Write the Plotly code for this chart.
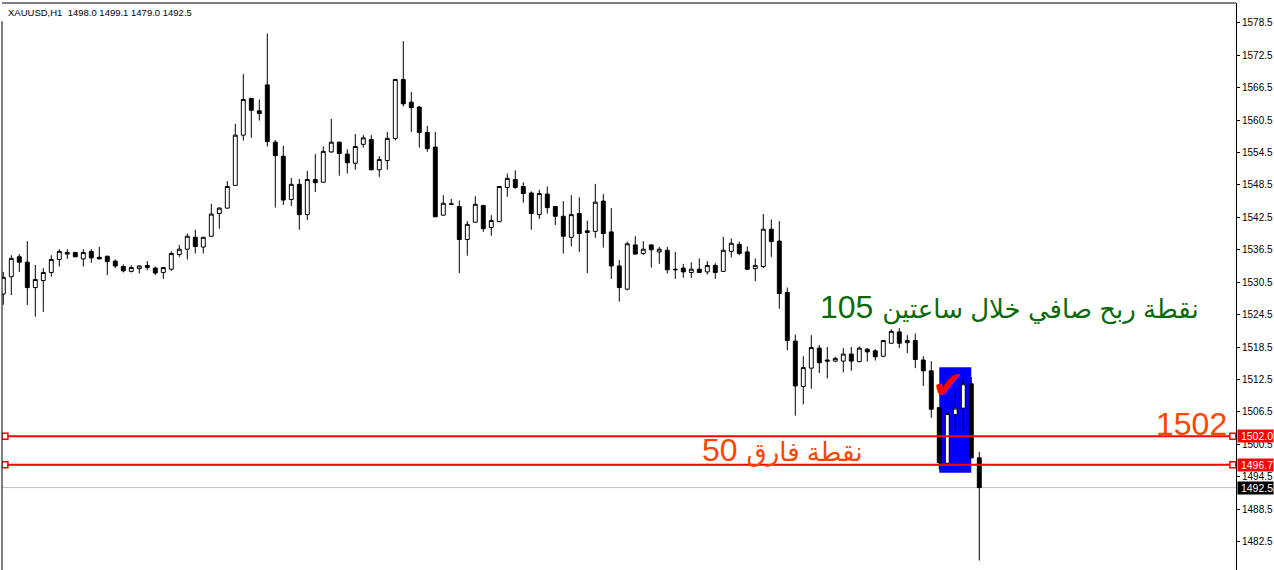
import plotly.graph_objects as go

symbol = "XAUUSD,H1"

open_ = [1528.3, 1531.5, 1535.2, 1534.2, 1529.5, 1530.8, 1532.3, 1534.7, 1536.0, 1536.0,
         1534.8, 1536.2, 1535.1, 1535.3, 1534.4, 1533.4, 1532.5, 1533.0, 1533.6, 1533.1,
         1532.3, 1532.9, 1535.6, 1536.6, 1538.8, 1537.0, 1539.0, 1543.2, 1544.2, 1548.4,
         1557.7, 1564.5, 1562.2, 1567.0, 1556.4, 1553.8, 1545.8, 1548.6, 1543.0, 1549.5,
         1549.0, 1554.6, 1556.4, 1554.2, 1552.5, 1556.0, 1556.9, 1551.3, 1553.0, 1557.1,
         1568.0, 1563.8, 1562.9, 1558.2, 1555.5, 1542.9, 1545.0, 1544.5, 1538.4, 1541.6,
         1544.7, 1540.6, 1541.7, 1548.0, 1549.5, 1548.2, 1547.0, 1543.0, 1546.8, 1544.5,
         1542.7, 1538.8, 1543.2, 1540.0, 1539.9, 1545.5, 1539.8, 1533.5, 1529.2, 1537.4,
         1535.8, 1537.4, 1536.1, 1536.4, 1532.9, 1533.1, 1532.3, 1532.9, 1532.4, 1533.6,
         1532.5, 1536.2, 1537.5, 1536.1, 1533.0, 1533.4, 1540.3, 1538.1, 1528.6, 1519.6,
         1511.2, 1514.6, 1518.3, 1516.1, 1515.9, 1515.9, 1517.2, 1515.8, 1518.1, 1517.8,
         1516.8, 1519.2, 1521.3, 1519.3, 1519.7, 1516.1, 1514.1, 1507.3, 1497.0, 1506.0,
         1507.2, 1511.7, 1498.0]

high = [1532.4, 1535.5, 1535.7, 1538.1, 1533.7, 1533.1, 1535.5, 1536.6, 1536.6, 1536.1,
        1536.6, 1536.6, 1537.0, 1535.4, 1534.7, 1533.8, 1533.6, 1533.6, 1534.4, 1533.4,
        1533.3, 1536.2, 1537.4, 1539.5, 1540.2, 1538.9, 1545.0, 1544.4, 1549.2, 1559.8,
        1569.0, 1564.6, 1564.3, 1576.5, 1556.8, 1555.7, 1549.8, 1549.6, 1551.1, 1554.2,
        1555.6, 1560.7, 1556.5, 1555.1, 1557.9, 1557.7, 1557.7, 1553.8, 1558.3, 1568.1,
        1575.1, 1565.7, 1563.1, 1559.4, 1558.3, 1546.6, 1545.9, 1545.6, 1541.8, 1546.4,
        1544.8, 1542.9, 1548.3, 1550.6, 1551.2, 1549.0, 1547.3, 1547.6, 1548.2, 1544.6,
        1545.5, 1546.6, 1546.2, 1541.9, 1548.7, 1546.8, 1544.2, 1534.6, 1538.0, 1539.0,
        1538.1, 1537.5, 1537.0, 1537.0, 1536.1, 1533.9, 1534.2, 1534.9, 1534.4, 1534.0,
        1538.9, 1538.6, 1538.0, 1537.1, 1534.9, 1543.1, 1542.1, 1541.8, 1529.5, 1520.8,
        1516.8, 1520.7, 1518.9, 1518.5, 1516.7, 1518.3, 1518.5, 1518.6, 1518.3, 1518.1,
        1519.8, 1521.8, 1522.0, 1520.7, 1521.0, 1516.8, 1515.9, 1507.4, 1506.3, 1510.7,
        1512.7, 1512.9, 1499.1]

low = [1526.3, 1528.1, 1532.4, 1526.3, 1524.1, 1525.0, 1531.5, 1533.4, 1534.8, 1535.1,
       1533.4, 1534.1, 1534.8, 1531.8, 1533.1, 1532.3, 1532.3, 1532.1, 1532.7, 1531.8,
       1531.1, 1532.6, 1535.2, 1534.7, 1535.8, 1535.8, 1538.9, 1540.4, 1544.1, 1548.3,
       1556.7, 1557.2, 1560.4, 1555.6, 1544.3, 1544.8, 1544.6, 1540.2, 1542.0, 1547.2,
       1548.9, 1554.4, 1550.2, 1550.6, 1551.3, 1555.4, 1551.2, 1550.0, 1551.3, 1556.7,
       1563.0, 1558.3, 1555.4, 1554.6, 1542.5, 1542.8, 1544.9, 1532.2, 1535.4, 1541.5,
       1539.8, 1539.1, 1541.6, 1546.3, 1547.8, 1545.2, 1540.2, 1542.2, 1543.2, 1541.1,
       1535.8, 1537.1, 1536.1, 1532.2, 1538.7, 1536.9, 1531.1, 1526.9, 1529.0, 1535.6,
       1535.5, 1533.2, 1533.9, 1532.1, 1531.1, 1531.3, 1531.3, 1532.2, 1531.9, 1531.1,
       1532.4, 1535.1, 1535.5, 1532.8, 1530.7, 1533.1, 1535.2, 1525.6, 1517.9, 1505.8,
       1507.9, 1510.8, 1513.7, 1512.7, 1515.7, 1513.8, 1514.1, 1515.7, 1515.8, 1516.0,
       1516.6, 1519.1, 1518.3, 1517.4, 1514.6, 1511.3, 1505.4, 1495.8, 1496.4, 1503.1,
       1503.0, 1497.9, 1479.0]

close = [1531.4, 1534.9, 1534.2, 1529.5, 1531.0, 1532.3, 1534.7, 1536.2, 1535.7, 1535.2,
         1536.0, 1535.0, 1534.8, 1534.3, 1533.5, 1532.6, 1533.2, 1533.5, 1533.2, 1532.2,
         1533.2, 1535.8, 1536.6, 1539.0, 1537.1, 1538.8, 1543.1, 1544.2, 1548.2, 1557.7,
         1564.3, 1562.3, 1561.7, 1556.5, 1553.9, 1545.7, 1548.6, 1543.0, 1549.5, 1548.9,
         1554.7, 1556.4, 1554.3, 1552.6, 1555.6, 1557.2, 1551.3, 1553.2, 1557.1, 1568.0,
         1563.5, 1562.8, 1558.2, 1555.2, 1542.6, 1545.1, 1544.9, 1538.4, 1541.2, 1544.9,
         1540.4, 1541.9, 1548.2, 1549.7, 1548.0, 1546.9, 1543.2, 1546.9, 1544.3, 1542.7,
         1539.0, 1543.0, 1539.5, 1539.7, 1545.3, 1539.5, 1533.5, 1529.5, 1537.6, 1535.7,
         1536.6, 1536.5, 1536.6, 1532.8, 1532.8, 1532.4, 1532.9, 1532.3, 1533.6, 1532.3,
         1536.4, 1537.7, 1535.8, 1532.9, 1533.6, 1540.3, 1538.0, 1528.4, 1519.7, 1511.3,
         1514.7, 1518.4, 1515.6, 1515.9, 1516.4, 1517.2, 1515.9, 1518.3, 1517.6, 1516.7,
         1519.7, 1521.4, 1519.2, 1519.7, 1516.2, 1514.1, 1507.0, 1497.1, 1506.2, 1507.2,
         1511.7, 1498.0, 1492.5]

bars = list(range(len(open_)))

tick_vals = [1578.5, 1572.5, 1566.5, 1560.5, 1554.5, 1548.5, 1542.5, 1536.5, 1530.5,
             1524.5, 1518.5, 1512.5, 1506.5, 1500.5, 1494.5, 1488.5, 1482.5]

level_upper = 1502.0
level_lower = 1496.7
bid_price = 1492.5

zone_bars = [117, 121]
zone_prices = [1495.25, 1514.75]

profit_num = "105"
profit_words = "نقطة ربح صافي خلال ساعتين"
spread_num = "50"
spread_words = "نقطة فارق"
level_text = "1502"
check_text = "✔"

W, H = 1274, 570
ML, MR, MT, MB = 2, 38, 3, 0
x_range = [-0.1625, 154.09]
y_range = [1477.25, 1582.15]

fig = go.Figure()
fig.add_trace(go.Candlestick(
    x=bars, open=open_, high=high, low=low, close=close,
    increasing=dict(line=dict(color="black", width=1), fillcolor="white"),
    decreasing=dict(line=dict(color="black", width=1), fillcolor="black"),
    whiskerwidth=0, hoverinfo="skip", showlegend=False,
))

shapes = []
# selection zone (background)
shapes.append(dict(type="rect", xref="x", yref="y", x0=zone_bars[0], x1=zone_bars[1],
                   y0=zone_prices[0], y1=zone_prices[1], fillcolor="#0000FF",
                   line=dict(width=0), layer="below"))
# bid line
shapes.append(dict(type="line", xref="paper", yref="y", x0=0, x1=1, y0=bid_price, y1=bid_price,
                   line=dict(color="#C0C0C0", width=1), layer="below"))
# red horizontal levels
for lv in (level_upper, level_lower):
    shapes.append(dict(type="line", xref="paper", yref="y", x0=0, x1=1, y0=lv, y1=lv,
                       line=dict(color="#FF0000", width=2), layer="above"))
    for anchor in (0.2, 153.7):
        shapes.append(dict(type="rect", xref="x", yref="y", xsizemode="pixel", ysizemode="pixel",
                           xanchor=anchor, yanchor=lv, x0=-3, x1=3, y0=-3, y1=3,
                           fillcolor="white", line=dict(color="#FF0000", width=1.5),
                           layer="above"))
# frame
shapes.append(dict(type="line", xref="paper", yref="paper", x0=0, x1=1, y0=1, y1=1,
                   line=dict(color="black", width=1)))
shapes.append(dict(type="line", xref="paper", yref="paper", x0=0, x1=0, y0=0, y1=0.968,
                   line=dict(color="black", width=1)))

ann = []
last = len(open_) - 1
title_txt = "%s\u00a0\u00a0%.1f %.1f %.1f %.1f" % (symbol, open_[last], high[last], low[last], close[last])
ann.append(dict(text=title_txt, xref="paper", yref="paper", x=0, y=1, xanchor="left", yanchor="top",
                xshift=4, yshift=-2, showarrow=False,
                font=dict(family="Liberation Sans, Arial, sans-serif", size=9.5, color="black")))
for lv, bg in ((level_upper, "#FF0000"), (level_lower, "#FF0000"), (bid_price, "#000000")):
    ann.append(dict(text="\u00a0%.1f" % lv, xref="paper", yref="y", x=1, y=lv, xanchor="left",
                    yanchor="middle", xshift=1, showarrow=False, bgcolor=bg, borderpad=0,
                    font=dict(family="Liberation Sans, Arial, sans-serif", size=10.5, color="white")))

big_font = "Liberation Sans, Arial, DejaVu Sans, sans-serif"
ar_style = '<span style="font-size:26px">%s</span>'
ann.append(dict(text=profit_num + " " + ar_style % profit_words, xref="x", yref="y",
                x=125.8, y=1526.0, xanchor="center",
                yanchor="middle", showarrow=False,
                font=dict(family=big_font, size=32, color="#0A6A0A")))
ann.append(dict(text=spread_num + " " + ar_style % spread_words, xref="x", yref="y",
                x=97.3, y=1499.5, xanchor="center",
                yanchor="middle", showarrow=False,
                font=dict(family=big_font, size=32, color="#FF4500")))
ann.append(dict(text=level_text, xref="x", yref="y", x=153.2, y=1504.35, xanchor="right",
                yanchor="middle", showarrow=False,
                font=dict(family=big_font, size=32, color="#FF4500")))
ann.append(dict(text=check_text, xref="x", yref="y", x=118.1, y=1511.5, xanchor="center",
                yanchor="middle", showarrow=False,
                font=dict(family="DejaVu Sans, sans-serif", size=38, color="#FF0000")))

fig.update_layout(
    width=W, height=H,
    margin=dict(l=ML, r=MR, t=MT, b=MB, pad=0),
    paper_bgcolor="white", plot_bgcolor="white",
    showlegend=False,
    boxgap=0.3, boxgroupgap=0.3,
    xaxis=dict(range=x_range, visible=False, rangeslider=dict(visible=False), fixedrange=True),
    yaxis=dict(range=y_range, side="right", tickvals=tick_vals,
               ticktext=["%.1f" % v for v in tick_vals],
               ticks="outside", ticklen=3, tickcolor="black", tickwidth=1,
               showline=True, linecolor="black", linewidth=1,
               showgrid=False, zeroline=False, fixedrange=True,
               tickfont=dict(family="Liberation Sans, Arial, sans-serif", size=10, color="black")),
    shapes=shapes,
    annotations=ann,
)

fig.write_html("out.html", config={"displayModeBar": False},
               post_script="document.body.style.margin='0';document.body.style.padding='0';")
